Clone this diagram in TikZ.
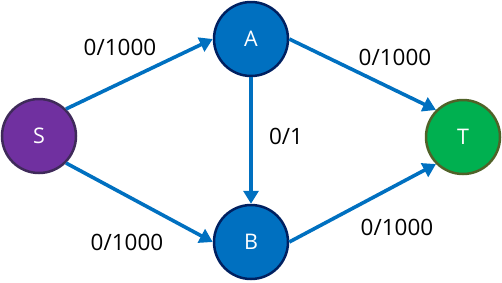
\documentclass[tikz,border=0pt]{standalone}
\usepackage{fontspec}
\setmainfont{Open Sans}
\usepackage{xcolor}
\usetikzlibrary{arrows.meta, positioning}

\definecolor{edgeblue}{HTML}{0070C0}
\definecolor{srcfill}{HTML}{7030A0}
\definecolor{srcline}{HTML}{3F2A5A}
\definecolor{midfill}{HTML}{0070C0}
\definecolor{midline}{HTML}{002060}
\definecolor{sinkfill}{HTML}{00B050}
\definecolor{sinkline}{HTML}{4F6228}

\begin{document}
\begin{tikzpicture}[x=1pt,y=-1pt,
  vertex/.style={circle,minimum size=74pt,inner sep=0pt,line width=2.5pt,
    text=white,font=\fontsize{21.5}{25}\selectfont},
  flow/.style={line width=3.6pt,edgeblue,-{Triangle[length=13pt,width=15pt]}},
  flowlabel/.style={font=\fontsize{22.5}{26}\selectfont,text=black}]
  \useasboundingbox (0,0) rectangle (502,282);

  % Vertices
  \node[vertex,fill=srcfill,draw=srcline]   (S) at (39,136)  {S};
  \node[vertex,fill=midfill,draw=midline]   (A) at (251,39)  {A};
  \node[vertex,fill=midfill,draw=midline]   (B) at (251,242) {B};
  \node[vertex,fill=sinkfill,draw=sinkline] (T) at (463,137) {T};

  % Edges
  \draw[flow] (S.north east) -- (A.west);
  \draw[flow] (S.south east) -- (B.west);
  \draw[flow] (A.south) -- (B.north);
  \draw[flow] (A.east) -- (T.north west);
  \draw[flow] (B.east) -- (T.south west);

  % Flow / capacity labels
  \node[flowlabel] (lsa) at (120,47)  {0/1000};
  \node[flowlabel] (lsb) at (127,242) {0/1000};
  \node[flowlabel] (lab) at (286,136) {0/1};
  \node[flowlabel] (lat) at (395,57)  {0/1000};
  \node[flowlabel] (lbt) at (397,227) {0/1000};
\end{tikzpicture}
\end{document}
